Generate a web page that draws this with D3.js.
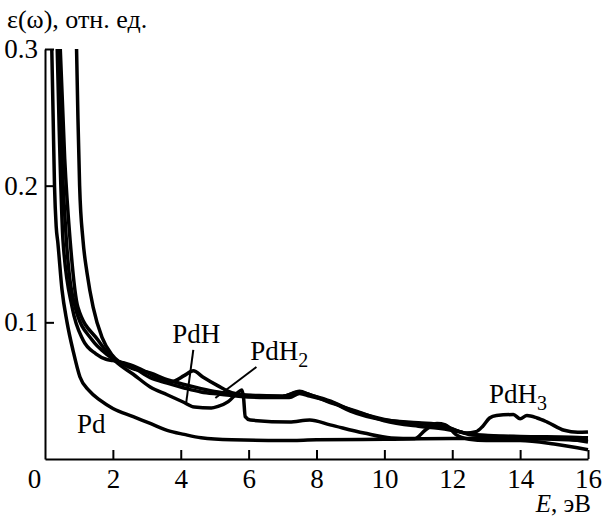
<!DOCTYPE html>
<html>
<head>
<meta charset="utf-8">
<script src="https://cdn.jsdelivr.net/npm/d3@7"></script>
<style>
  body { margin: 0; background: #fff; }
  svg text { font-family: "Liberation Serif", "Times New Roman", serif; fill: #000; }
</style>
</head>
<body>
<svg id="plot" width="604" height="519"></svg>
<script>
// energy (eV), epsilon (rel. units)
const pd = [[0.2,0.30],[0.24,0.25],[0.28,0.2],[0.33,0.17],[0.38,0.158],[0.5,0.124],[0.65,0.1],[0.83,0.079],[1.03,0.06],[1.3,0.05],[1.62,0.043],[2.0,0.037],[2.6,0.031],[3.1,0.026],[3.6,0.021],[4.1,0.018],[4.6,0.0155],[5.5,0.014],[7,0.0135],[8,0.014],[10,0.0145],[12,0.015],[14,0.015],[15,0.0145],[16,0.0135]];

const pdH = [[0.36,0.30],[0.42,0.24],[0.53,0.16],[0.8,0.111],[1.12,0.087],[1.5,0.077],[1.8,0.073],[2.0,0.072],[2.5,0.069],[3.0,0.0635],[3.3,0.0595],[3.6,0.0565],[3.8,0.057],[4.1,0.061],[4.37,0.0645],[4.65,0.060],[5.1,0.0535],[5.5,0.0485],[6.0,0.0465],[7.0,0.046],[7.5,0.049],[7.8,0.047],[8.5,0.0405],[9.4,0.033],[10,0.028],[11,0.024],[11.6,0.0225],[12.2,0.020],[12.6,0.0175],[13.5,0.0165],[15,0.0155],[16,0.0125]];

const pdMid = [[0.4,0.30],[0.5,0.22],[0.63,0.16],[0.89,0.111],[1.39,0.087],[1.8,0.077],[2.0,0.0735],[2.6,0.067],[3.1,0.0595],[3.6,0.0555],[4.1,0.052],[4.6,0.049],[5.1,0.0475],[5.7,0.046],[6.5,0.045],[7.2,0.045],[7.5,0.048],[7.8,0.046],[8.5,0.041],[9.0,0.035],[10,0.0285],[11,0.0265],[11.7,0.025],[12.1,0.021],[12.6,0.018],[14,0.0165],[15.5,0.016],[16,0.0155]];

const pdH2 = [[0.45,0.30],[0.58,0.22],[0.74,0.16],[0.97,0.111],[1.56,0.087],[1.9,0.076],[2.1,0.071],[2.6,0.062],[3.1,0.0527],[3.6,0.047],[4.07,0.0417],[4.4,0.038],[4.9,0.0373],[5.1,0.0385],[5.4,0.042],[5.7,0.049],[5.8,0.0505],[5.85,0.045],[5.9,0.031],[6.05,0.0285],[7.2,0.027],[7.8,0.0285],[8.4,0.025],[9.4,0.019],[10.2,0.0154],[10.9,0.015],[11.2,0.021],[11.55,0.026],[11.8,0.025],[12.1,0.018],[12.5,0.0145],[13,0.0135],[14,0.0135],[15,0.011],[16,0.0068]];

const pdH3 = [[0.93,0.30],[0.97,0.25],[1.02,0.2],[1.12,0.16],[1.24,0.136],[1.42,0.111],[1.68,0.089],[1.98,0.076],[2.5,0.067],[3.1,0.063],[3.6,0.058],[4.1,0.0545],[4.6,0.0515],[5.1,0.049],[5.7,0.047],[6.2,0.0465],[7.0,0.046],[7.5,0.0495],[7.8,0.047],[8.5,0.0415],[9.0,0.036],[9.5,0.032],[10,0.029],[10.5,0.027],[11,0.026],[11.5,0.0245],[12,0.022],[12.4,0.019],[12.7,0.020],[12.9,0.024],[13.1,0.030],[13.3,0.0318],[13.8,0.0325],[14.0,0.0295],[14.2,0.0318],[14.5,0.030],[14.8,0.027],[15.3,0.021],[15.7,0.0195],[16,0.0198]];

const series = [pd, pdH, pdMid, pdH2, pdH3];

const xTicks = [0, 2, 4, 6, 8, 10, 12, 14, 16];
const yTicks = [0.1, 0.2, 0.3];

// curve labels: [text, subscript, x (eV), y]
const labels = [["Pd", "", 0.94, 0.019], ["PdH", "", 3.75, 0.085], ["PdH", "2", 6.05, 0.0724], ["PdH", "3", 13.08, 0.041]];
// leader lines: [x1, y1, x2, y2]
const leaders = [[4.37, 0.0798, 4.16, 0.041], [6.23, 0.0673, 5.02, 0.0446]];

const svg = d3.select("#plot");
const x = d3.scaleLinear().domain([0, 16]).range([45, 588]);
const y = d3.scaleLinear().domain([0, 0.3]).range([459, 49]);

svg.append("defs").append("clipPath").attr("id", "clip")
  .append("rect").attr("x", 45).attr("y", 49).attr("width", 545).attr("height", 410);

const line = d3.line().x(d => x(d[0])).y(d => y(d[1])).curve(d3.curveMonotoneX);

svg.append("g").attr("clip-path", "url(#clip)")
  .selectAll("path").data(series).enter().append("path")
    .attr("d", line)
    .attr("fill", "none")
    .attr("stroke", "#000")
    .attr("stroke-width", 3.5)
    .attr("stroke-linejoin", "round");

// axes, ticks pointing inward
const xAxis = d3.axisBottom(x).tickValues(xTicks).tickSizeInner(-9).tickSizeOuter(0).tickPadding(10);
const gx = svg.append("g").attr("transform", "translate(0,459)").call(xAxis);
const yAxis = d3.axisLeft(y).tickValues(yTicks).tickSizeInner(-9).tickSizeOuter(0).tickPadding(8).tickFormat(d3.format(".1f"));
const gy = svg.append("g").attr("transform", "translate(45,0)").call(yAxis);

[gx, gy].forEach(g => {
  g.attr("font-family", null);
  g.select(".domain").attr("stroke", "#000").attr("stroke-width", 2);
  g.selectAll(".tick line").attr("stroke", "#000").attr("stroke-width", 2);
  g.selectAll(".tick text").attr("font-size", 27).attr("fill", "#000");
});
gx.selectAll(".tick line").filter(d => d === 0).remove();
gx.selectAll(".tick text").filter(d => d === 0).attr("dx", -11);
gy.selectAll(".tick text").attr("dx", 1);

svg.append("text").attr("x", 7).attr("y", 28).attr("font-size", 26).text("ε(ω), отн. ед.");

const xl = svg.append("text").attr("x", 591).attr("y", 512).attr("font-size", 25).attr("text-anchor", "end");
xl.append("tspan").attr("font-style", "italic").text("E");
xl.append("tspan").text(", эВ");

labels.forEach(l => {
  const t = svg.append("text").attr("x", x(l[2])).attr("y", y(l[3])).attr("font-size", 27);
  t.append("tspan").text(l[0]);
  if (l[1]) t.append("tspan").attr("dy", 7).attr("font-size", 20).text(l[1]);
});

svg.selectAll(".leader").data(leaders).enter().append("line")
  .attr("x1", d => x(d[0])).attr("y1", d => y(d[1]))
  .attr("x2", d => x(d[2])).attr("y2", d => y(d[3]))
  .attr("stroke", "#000").attr("stroke-width", 2);
</script>
</body>
</html>
